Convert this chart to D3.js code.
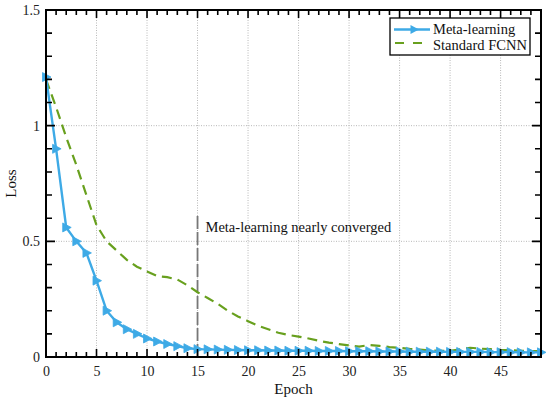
<!DOCTYPE html>
<html>
<head>
<meta charset="utf-8">
<script src="https://cdn.jsdelivr.net/npm/d3@7"></script>
<style>
  body { margin: 0; background: #fff; }
  text { font-family: "Liberation Serif", "Times New Roman", serif; }
</style>
</head>
<body>
<div id="vis"></div>
<script>
// Loss per epoch
var epochs = d3.range(0, 50);
var metaLoss = [1.21, 0.90, 0.56, 0.50, 0.45, 0.33, 0.20, 0.15, 0.12, 0.10,
                0.08, 0.067, 0.056, 0.047, 0.038, 0.034, 0.033, 0.032, 0.031, 0.030,
                0.029, 0.029, 0.028, 0.028, 0.027, 0.027, 0.027, 0.026, 0.026, 0.026,
                0.025, 0.025, 0.025, 0.024, 0.024, 0.024, 0.023, 0.023, 0.023, 0.023,
                0.022, 0.022, 0.022, 0.022, 0.021, 0.021, 0.021, 0.020, 0.020, 0.020];
var fcnnLoss = [1.20, 1.08, 0.95, 0.83, 0.70, 0.57, 0.50, 0.46, 0.42, 0.39,
                0.37, 0.35, 0.345, 0.335, 0.31, 0.28, 0.255, 0.23, 0.20, 0.175,
                0.155, 0.135, 0.12, 0.105, 0.095, 0.088, 0.08, 0.07, 0.062, 0.056,
                0.05, 0.045, 0.052, 0.048, 0.043, 0.04, 0.035, 0.032, 0.028, 0.027,
                0.027, 0.033, 0.04, 0.036, 0.034, 0.031, 0.029, 0.027, 0.026, 0.025];
var seriesNames = ["Meta-learning", "Standard FCNN"];
var xTicks = [0, 5, 10, 15, 20, 25, 30, 35, 40, 45];
var yTicks = [0, 0.5, 1, 1.5];
var markerEpoch = 15, markerTop = 0.62;
var note = "Meta-learning nearly converged";

var W = 550, H = 403,
    m = {left: 46, right: 9, top: 10, bottom: 46},
    w = W - m.left - m.right,
    h = H - m.top - m.bottom;

var x = d3.scaleLinear().domain([0, 49]).range([0, w]),
    y = d3.scaleLinear().domain([0, 1.5]).range([h, 0]);

var blue = "#3eaae6", green = "#68a01e";

var svg = d3.select("#vis").append("svg")
    .attr("width", W).attr("height", H)
  .append("g")
    .attr("transform", "translate(" + [m.left, m.top] + ")");

// grid
svg.append("g").selectAll("line").data(xTicks.filter(function(d) { return d > 0; }))
  .enter().append("line")
    .attr("x1", function(d) { return x(d); }).attr("x2", function(d) { return x(d); })
    .attr("y1", 0).attr("y2", h)
    .attr("stroke", "#b0b0b0").attr("stroke-width", 0.9).attr("stroke-dasharray", "1,1.5");
svg.append("g").selectAll("line").data([0.5, 1])
  .enter().append("line")
    .attr("y1", function(d) { return y(d); }).attr("y2", function(d) { return y(d); })
    .attr("x1", 0).attr("x2", w)
    .attr("stroke", "#b0b0b0").attr("stroke-width", 0.9).attr("stroke-dasharray", "1,1.5");

// convergence marker
svg.append("line")
    .attr("x1", x(markerEpoch)).attr("x2", x(markerEpoch))
    .attr("y1", y(0)).attr("y2", y(markerTop))
    .attr("stroke", "#777").attr("stroke-width", 1.8).attr("stroke-dasharray", "13,3");
svg.append("text")
    .attr("x", x(markerEpoch) + 8).attr("y", y(0.54))
    .attr("font-size", 14.5).attr("fill", "#111").text(note);

var lineGen = d3.line().x(function(d, i) { return x(epochs[i]); }).y(function(d) { return y(d); });

svg.append("path").datum(fcnnLoss).attr("d", lineGen)
    .attr("fill", "none").attr("stroke", green).attr("stroke-width", 2.2)
    .attr("stroke-dasharray", "10,6");

svg.append("path").datum(metaLoss).attr("d", lineGen)
    .attr("fill", "none").attr("stroke", blue).attr("stroke-width", 2.4);

var tri = "M-3.5,-4.5L5,0L-3.5,4.5Z";
svg.append("g").selectAll("path").data(metaLoss).enter().append("path")
    .attr("d", tri)
    .attr("transform", function(d, i) { return "translate(" + [x(epochs[i]), y(d)] + ")"; })
    .attr("fill", blue).attr("stroke", blue).attr("stroke-width", 0.8);

// frame and inward ticks as one path each, on top of the data
var xMinor = d3.range(0, 50), yMinor = d3.range(0, 16).map(function(i) { return i / 10; });
function xLen(d) { return xTicks.indexOf(d) >= 0 ? 8 : 5; }
function yLen(d) { return yTicks.indexOf(d) >= 0 ? 9 : 6; }

var tickPath = d3.path();
xMinor.forEach(function(d) {
  var px = x(d);
  tickPath.moveTo(px, h); tickPath.lineTo(px, h - xLen(d));
  tickPath.moveTo(px, 0); tickPath.lineTo(px, xLen(d));
});
yMinor.forEach(function(d) {
  var py = y(d);
  tickPath.moveTo(0, py); tickPath.lineTo(yLen(d), py);
  tickPath.moveTo(w, py); tickPath.lineTo(w - yLen(d), py);
});
svg.append("path").attr("d", tickPath.toString())
    .attr("fill", "none").attr("stroke", "#000").attr("stroke-width", 1.6);

var framePath = d3.path();
framePath.rect(0, 0, w, h);
svg.append("path").attr("d", framePath.toString())
    .attr("fill", "none").attr("stroke", "#000").attr("stroke-width", 2);

// tick labels
function labels(g, axis) {
  g.call(axis);
  g.select(".domain").remove();
  g.selectAll(".tick line").remove();
  g.selectAll(".tick text").attr("font-family", "Liberation Serif").attr("font-size", 14).attr("fill", "#222");
}
svg.append("g").attr("transform", "translate(0," + h + ")")
  .call(labels, d3.axisBottom(x).tickValues(xTicks).tickSize(0).tickPadding(9.5).tickFormat(d3.format("d")));
svg.append("g")
  .call(labels, d3.axisLeft(y).tickValues(yTicks).tickSize(0).tickPadding(6).tickFormat(d3.format("")));

// legend
var lg = svg.append("g").attr("transform", "translate(" + (w - 151) + ",8)");
lg.append("rect").attr("width", 140).attr("height", 37)
    .attr("fill", "#fff").attr("stroke", "#000").attr("stroke-width", 1.3);
lg.append("line").attr("x1", 4).attr("x2", 40).attr("y1", 11.5).attr("y2", 11.5)
    .attr("stroke", blue).attr("stroke-width", 2.4);
lg.append("path").attr("d", tri).attr("transform", "translate(24,11.5)").attr("fill", blue);
lg.append("line").attr("x1", 5).attr("x2", 39).attr("y1", 25).attr("y2", 25)
    .attr("stroke", green).attr("stroke-width", 2.2).attr("stroke-dasharray", "9,9");
lg.selectAll("text").data(seriesNames).enter().append("text")
    .attr("x", 43).attr("y", function(d, i) { return 16 + i * 15.5; })
    .attr("font-size", 14.5).attr("fill", "#111").text(function(d) { return d; });

// axis titles
svg.append("text").attr("x", w / 2).attr("y", h + 37)
    .attr("text-anchor", "middle").attr("font-size", 15).attr("fill", "#111").text("Epoch");
svg.append("text").attr("transform", "translate(" + (-30) + "," + (h / 2) + ") rotate(-90)")
    .attr("text-anchor", "middle").attr("font-size", 15).attr("fill", "#111").text("Loss");
</script>
</body>
</html>
